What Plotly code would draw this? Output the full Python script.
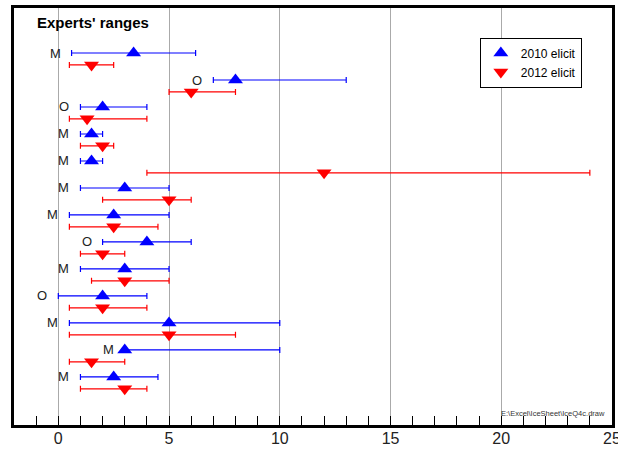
import plotly.graph_objects as go

# ---- data ----
row_labels = ["M", "O", "O", "M", "M", "M", "M", "O", "M", "O", "M", "M", "M"]
low_2010 = [0.6, 7.0, 1.0, 1.0, 1.0, 1.0, 0.5, 2.0, 1.0, 0.0, 0.5, 3.0, 1.0]
mode_2010 = [3.4, 8.0, 2.0, 1.5, 1.5, 3.0, 2.5, 4.0, 3.0, 2.0, 5.0, 3.0, 2.5]
high_2010 = [6.2, 13.0, 4.0, 2.0, 2.0, 5.0, 5.0, 6.0, 5.0, 4.0, 10.0, 10.0, 4.5]
low_2012 = [0.5, 5.0, 0.5, 1.0, 4.0, 2.0, 0.5, 1.0, 1.5, 0.5, 0.5, 0.5, 1.0]
mode_2012 = [1.5, 6.0, 1.3, 2.0, 12.0, 5.0, 2.5, 2.0, 3.0, 2.0, 5.0, 1.5, 3.0]
high_2012 = [2.5, 8.0, 4.0, 2.5, 24.0, 6.0, 4.5, 3.0, 5.0, 4.0, 8.0, 3.0, 4.0]
series_names = ["2010 elicit", "2012 elicit"]
x_tick_vals = [0, 5, 10, 15, 20, 25]
title_text = "Experts' ranges"
footer_text = "E:\\Excel\\IceSheet\\IceQ4c.draw"

BLUE = "#0000FF"
RED = "#FF0000"
n = len(row_labels)
y_blue = [i for i in range(n)]
y_red = [i + 0.44 for i in range(n)]

fig = go.Figure()

def add_series(mode, low, high, ys, color, symbol):
    fig.add_trace(go.Scatter(
        x=mode, y=ys, mode="markers",
        marker=dict(symbol=symbol, size=13, color=color),
        error_x=dict(type="data", symmetric=False,
                     array=[h - m for h, m in zip(high, mode)],
                     arrayminus=[m - l for m, l in zip(mode, low)],
                     color=color, thickness=1.2, width=3),
        showlegend=False, hoverinfo="skip"))

add_series(mode_2010, low_2010, high_2010, y_blue, BLUE, "triangle-up")
add_series(mode_2012, low_2012, high_2012, y_red, RED, "triangle-down")

# legend-only traces
fig.add_trace(go.Scatter(x=[None], y=[None], mode="markers", name=series_names[0],
                         marker=dict(symbol="triangle-up", size=13, color=BLUE)))
fig.add_trace(go.Scatter(x=[None], y=[None], mode="markers", name=series_names[1],
                         marker=dict(symbol="triangle-down", size=13, color=RED)))

for lab, lo, y in zip(row_labels, low_2010, y_blue):
    fig.add_annotation(x=lo, y=y, text=lab, showarrow=False, xanchor="right",
                       yanchor="middle", xshift=-9,
                       font=dict(family="Liberation Sans, Arial", size=13, color="#222222"))

fig.add_annotation(x=0.035, y=0.966, xref="paper", yref="paper", text="<b>" + title_text + "</b>",
                   showarrow=False, xanchor="left", yanchor="middle",
                   font=dict(family="Liberation Sans, Arial", size=15, color="black"))
fig.add_annotation(x=0.992, y=0.012, xref="paper", yref="paper", text=footer_text,
                   showarrow=False, xanchor="right", yanchor="bottom",
                   font=dict(family="Liberation Sans, Arial", size=7.5, color="#333333"))

fig.update_layout(
    width=618, height=449,
    margin=dict(l=14, r=6, t=8, b=24, autoexpand=False),
    paper_bgcolor="white", plot_bgcolor="white",
    font=dict(family="Liberation Sans, Arial", color="#222222"),
    legend=dict(x=0.779, y=0.929, xanchor="left", yanchor="top",
                bordercolor="black", borderwidth=1, bgcolor="white",
                font=dict(size=12, color="black"), itemwidth=30,
                tracegroupgap=0),
    xaxis=dict(range=[-2, 25], tickvals=x_tick_vals, ticks="inside", ticklen=9,
               tickcolor="black", tickwidth=1.2, automargin=False,
               ticklabeloverflow="allow",
               minor=dict(dtick=1, tick0=0, ticks="inside", ticklen=9, tickcolor="black",
                          tickwidth=1.2, showgrid=False),
               showgrid=True, gridcolor="#AAAAAA", gridwidth=1,
               showline=True, linecolor="black", linewidth=2.5, mirror=True,
               zeroline=False, tickfont=dict(size=16, color="#222222"),
               ticklabelstandoff=-3),
    yaxis=dict(range=[13.78, -1.667], showticklabels=False, ticks="",
               showgrid=False, zeroline=False, automargin=False,
               showline=True, linecolor="black", linewidth=2.5, mirror=True),
)

fig.write_html("out.html", config={"displayModeBar": False},
               post_script="document.body.style.margin='0';document.body.style.overflow='hidden';")
